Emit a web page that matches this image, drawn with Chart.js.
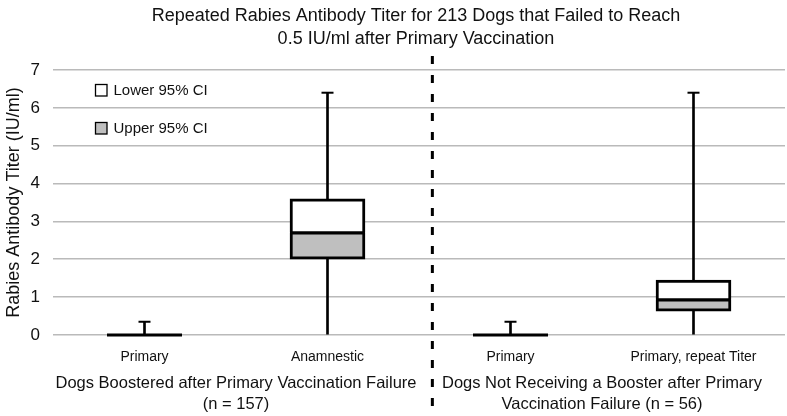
<!DOCTYPE html>
<html>
<head>
<meta charset="utf-8">
<script src="https://cdn.jsdelivr.net/npm/chart.js@4"></script>
<style>
  html, body { margin: 0; padding: 0; background: #ffffff; }
  #wrap { width: 787px; height: 416px; }
</style>
</head>
<body>
<div id="wrap"><canvas id="c" width="787" height="416"></canvas></div>
<script>
// ---- Data ----
const titleLines = ['Repeated Rabies Antibody Titer for 213 Dogs that Failed to Reach', '0.5 IU/ml after Primary Vaccination'];
const categories = ['Primary', 'Anamnestic', 'Primary', 'Primary, repeat Titer'];
const groupLabels = [
  ['Dogs Boostered after Primary Vaccination Failure', '(n = 157)'],
  ['Dogs Not Receiving a Booster after Primary', 'Vaccination Failure (n = 56)']
];
const yAxisTitle = 'Rabies Antibody Titer (IU/ml)';
const whiskerMin = [0, 0, 0, 0];
const whiskerMax = [0.35, 6.4, 0.35, 6.4];
const q1 = [0, 2.0, 0, 0.63];
const median = [0, 2.7, 0, 0.93];
const q3 = [0, 3.6, 0, 1.45];
const lowerCILabel = 'Lower 95% CI';
const upperCILabel = 'Upper 95% CI';
const dividerIndex = 1.573; // position of the dashed divider in category units

const FONT = "'Liberation Sans', Arial, sans-serif";
const GRAY = '#bfbfbf';

const whiskerData = whiskerMin.map((v, i) => [v, whiskerMax[i]]);
const upperBoxData = median.map((v, i) => [v, q3[i]]);   // white part
const lowerBoxData = q1.map((v, i) => [v, median[i]]);   // gray part

const titlePlugin = {
  id: 'customTitle',
  afterDraw(chart) {
    const ctx = chart.ctx, a = chart.chartArea;
    ctx.save();
    ctx.fillStyle = '#111';
    ctx.font = '18px ' + FONT;
    ctx.textAlign = 'center';
    ctx.textBaseline = 'middle';
    const cx = (a.left + a.right) / 2 - 3;
    titleLines.forEach((t, i) => ctx.fillText(t, cx, 16 + i * 23));
    ctx.restore();
  }
};

const dividerPlugin = {
  id: 'divider',
  afterDraw(chart) {
    const ctx = chart.ctx, a = chart.chartArea;
    const x = chart.scales.x.getPixelForValue(dividerIndex);
    ctx.save();
    ctx.strokeStyle = '#000';
    ctx.lineWidth = 3;
    ctx.setLineDash([8, 11]);
    ctx.beginPath();
    ctx.moveTo(x, a.top - 14);
    ctx.lineTo(x, chart.height);
    ctx.stroke();
    ctx.restore();
  }
};

const legendPlugin = {
  id: 'boxLegend',
  afterDraw(chart) {
    const ctx = chart.ctx, a = chart.chartArea;
    const items = [
      { label: lowerCILabel, fill: '#ffffff' },
      { label: upperCILabel, fill: GRAY }
    ];
    ctx.save();
    ctx.font = '15px ' + FONT;
    ctx.textBaseline = 'middle';
    items.forEach((it, i) => {
      const bx = a.left + 42.5, by = a.top + 14.5 + i * 38;
      ctx.fillStyle = it.fill;
      ctx.fillRect(bx, by, 11.5, 11.5);
      ctx.strokeStyle = '#000';
      ctx.lineWidth = 1.3;
      ctx.strokeRect(bx, by, 11.5, 11.5);
      ctx.fillStyle = '#111';
      ctx.fillText(it.label, bx + 18, by + 6);
    });
    ctx.restore();
  }
};

new Chart(document.getElementById('c'), {
  data: {
    labels: categories,
    datasets: [
      {
        type: 'bar', label: 'whisker', data: whiskerData,
        backgroundColor: '#000', borderWidth: 0, barThickness: 2,
        grouped: false, order: 5
      },
      {
        type: 'bar', label: lowerCILabel, data: upperBoxData,
        backgroundColor: '#ffffff', borderColor: '#000',
        borderWidth: { top: 3, left: 3, right: 3, bottom: 0 },
        borderSkipped: false, barThickness: 75, grouped: false, order: 3
      },
      {
        type: 'bar', label: upperCILabel, data: lowerBoxData,
        backgroundColor: GRAY, borderColor: '#000',
        borderWidth: { top: 0, left: 3, right: 3, bottom: 3 },
        borderSkipped: false, barThickness: 75, grouped: false, order: 3
      },
      {
        type: 'line', label: 'median', data: median,
        showLine: false, pointStyle: 'line', pointRadius: 37.5,
        pointBorderWidth: 3.2, pointBorderColor: '#000', order: 1, clip: false
      },
      {
        type: 'line', label: 'cap', data: whiskerMax,
        showLine: false, pointStyle: 'line', pointRadius: 6,
        pointBorderWidth: 2, pointBorderColor: '#000', order: 1, clip: false
      }
    ]
  },
  options: {
    responsive: false,
    animation: false,
    events: [],
    layout: { autoPadding: false, padding: { top: 70, left: 3, right: 2, bottom: 0 } },
    plugins: {
      legend: { display: false },
      title: { display: false },
      tooltip: { enabled: false }
    },
    scales: {
      x: {
        type: 'category',
        position: 'bottom',
        offset: true,
        grid: { display: false, drawTicks: false },
        border: { display: false },
        ticks: {
          color: '#111', font: { family: FONT, size: 14 },
          padding: 14, maxRotation: 0, autoSkip: false
        },
        afterFit(s) { s.paddingLeft = 0; s.paddingRight = 0; s.height = 31; }
      },
      x2: {
        type: 'category',
        position: 'bottom',
        labels: groupLabels,
        offset: true,
        grid: { display: false, drawTicks: false },
        border: { display: false },
        ticks: {
          color: '#111', font: { family: FONT, size: 16.5, lineHeight: 1.33 },
          padding: 6, maxRotation: 0, autoSkip: false
        },
        afterFit(s) { s.paddingLeft = 0; s.paddingRight = 0; s.height = 50; }
      },
      y: {
        min: 0, max: 7,
        grid: { color: '#bababa', lineWidth: 1.6, drawTicks: false },
        border: { display: false },
        ticks: {
          stepSize: 1, color: '#111',
          font: { family: FONT, size: 17 }, padding: 13
        },
        title: {
          display: true, text: yAxisTitle, color: '#111',
          font: { family: FONT, size: 18 }, padding: { top: 0, bottom: 4 }
        },
        afterFit(s) { s.width = 50; s.paddingTop = 0; s.paddingBottom = 0; }
      }
    }
  },
  plugins: [titlePlugin, dividerPlugin, legendPlugin]
});
</script>
</body>
</html>
